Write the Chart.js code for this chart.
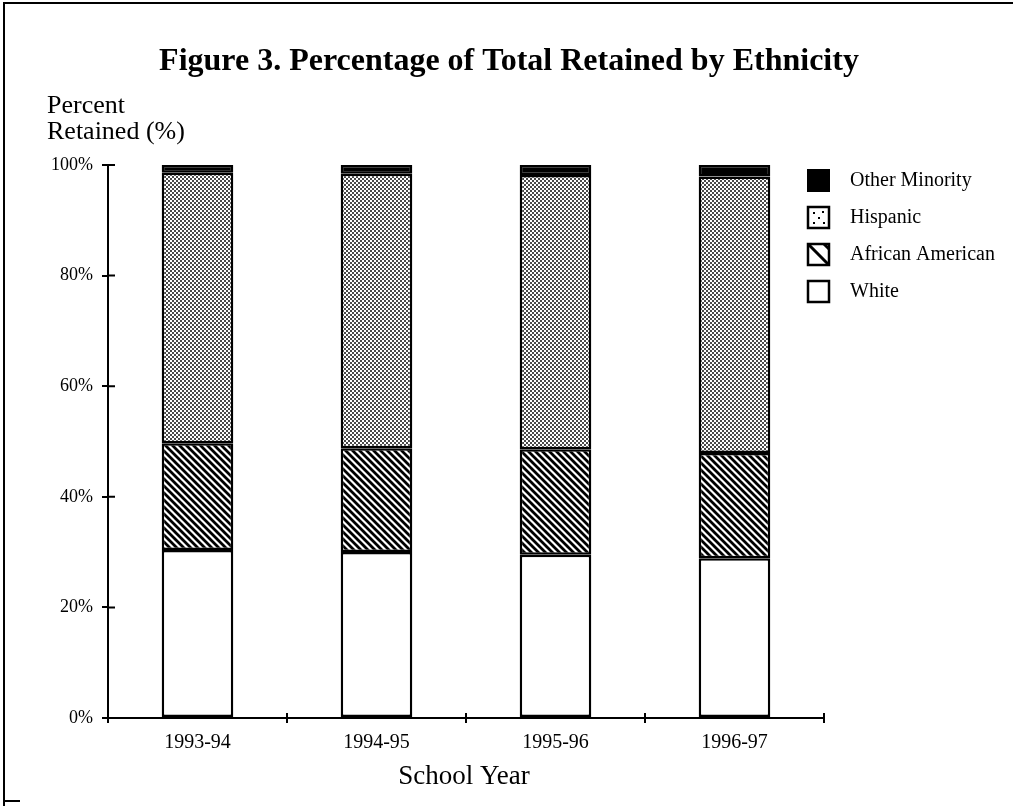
<!DOCTYPE html>
<html>
<head>
<meta charset="utf-8">
<script src="https://cdn.jsdelivr.net/npm/chart.js@4.4.1/dist/chart.umd.min.js"></script>
<style>
  html, body { margin: 0; padding: 0; background: #fff; }
  #wrap { width: 1013px; height: 811px; position: relative; }
</style>
</head>
<body>
<div id="wrap"><canvas id="c" width="1013" height="811"></canvas></div>
<script>
// ---- data ----
const categories = ['1993-94', '1994-95', '1995-96', '1996-97'];
const white = [30.4, 30.0, 29.5, 28.9];
const africanAmerican = [19.3, 18.8, 19.1, 19.0];
const hispanic = [48.9, 49.6, 49.6, 50.0];
const otherMinority = [1.4, 1.6, 1.8, 2.1];
const seriesLabels = ['White', 'African American', 'Hispanic', 'Other Minority'];
const yTicks = [0, 20, 40, 60, 80, 100];
const titleText = 'Figure 3. Percentage of Total Retained by Ethnicity';
const yTitleLines = ['Percent', 'Retained (%)'];
const xTitleText = 'School Year';

// ---- patterns ----
function stipple() {
  const c = document.createElement('canvas'); c.width = 4; c.height = 4;
  const g = c.getContext('2d');
  g.fillStyle = '#fff'; g.fillRect(0, 0, 4, 4);
  g.fillStyle = '#4a4a4a';
  g.fillRect(0, 0, 2, 2); g.fillRect(2, 2, 2, 2);
  return g.createPattern(c, 'repeat');
}
function hatch() {
  const s = 7;
  const c = document.createElement('canvas'); c.width = s; c.height = s;
  const g = c.getContext('2d');
  g.fillStyle = '#fff'; g.fillRect(0, 0, s, s);
  g.strokeStyle = '#000'; g.lineWidth = 2.8;
  g.beginPath();
  g.moveTo(-s, 0); g.lineTo(s, 2 * s);
  g.moveTo(0, -s); g.lineTo(2 * s, s);
  g.moveTo(0, 0); g.lineTo(s, s);
  g.stroke();
  return g.createPattern(c, 'repeat');
}
const fills = ['#ffffff', hatch(), stipple(), '#000000'];
const seriesData = [white, africanAmerican, hispanic, otherMinority];

const SERIF = '"Liberation Serif", "DejaVu Serif", serif';

const decorPlugin = {
  id: 'decor',
  beforeDraw(chart) {
    const ctx = chart.ctx;
    ctx.save();
    ctx.fillStyle = '#fff';
    ctx.fillRect(0, 0, chart.width, chart.height);
    ctx.restore();
  },
  afterDraw(chart) {
    const ctx = chart.ctx;
    const xs = chart.scales.x, ys = chart.scales.y;
    ctx.save();
    // frame
    ctx.strokeStyle = '#000'; ctx.lineWidth = 2;
    ctx.beginPath();
    ctx.moveTo(4, 806); ctx.lineTo(4, 3); ctx.lineTo(1013, 3);
    ctx.moveTo(4, 801); ctx.lineTo(20, 801);
    ctx.stroke();
    // title
    ctx.fillStyle = '#000';
    ctx.font = 'bold 32px ' + SERIF;
    ctx.textAlign = 'center'; ctx.textBaseline = 'middle';
    ctx.fillText(titleText, 509, 62);
    // y title
    ctx.font = '26px ' + SERIF;
    ctx.textAlign = 'left';
    ctx.fillText(yTitleLines[0], 47, 106);
    ctx.fillText(yTitleLines[1], 47, 132);
    // x title
    ctx.font = '27px ' + SERIF;
    ctx.textAlign = 'center';
    ctx.fillText(xTitleText, 464, 777);
    // inner tick marks on y axis
    ctx.lineWidth = 2;
    ctx.beginPath();
    yTicks.forEach(v => {
      const y = ys.getPixelForValue(v);
      ctx.moveTo(xs.left, y); ctx.lineTo(xs.left + 7, y);
    });
    // inner tick marks on x axis (category boundaries)
    const step = xs.getPixelForValue(1) - xs.getPixelForValue(0);
    for (let i = 0; i <= categories.length; i++) {
      const x = xs.getPixelForValue(0) - step / 2 + i * step;
      ctx.moveTo(x, ys.bottom); ctx.lineTo(x, ys.bottom - 5);
    }
    ctx.stroke();
    // legend (reverse order)
    ctx.font = '20px ' + SERIF;
    ctx.textAlign = 'left';
    const rows = [180, 217, 254, 291];
    const order = [3, 2, 1, 0];
    order.forEach((di, r) => {
      const cy = rows[r];
      const bx = 808, by = cy - 10, bs = 21;
      ctx.lineWidth = 2.5; ctx.strokeStyle = '#000';
      if (di === 3) {
        ctx.fillStyle = '#000'; ctx.fillRect(bx - 1, by - 1, bs + 2, bs + 2);
      } else {
        ctx.fillStyle = '#fff'; ctx.fillRect(bx, by, bs, bs);
        ctx.strokeRect(bx, by, bs, bs);
        if (di === 2) {
          ctx.fillStyle = '#000';
          [[5, 5], [14, 4], [5, 15], [15, 15], [10, 10]].forEach(p => ctx.fillRect(bx + p[0], by + p[1], 2, 2));
        } else if (di === 1) {
          ctx.save();
          ctx.beginPath(); ctx.rect(bx, by, bs, bs); ctx.clip();
          ctx.lineWidth = 3;
          ctx.beginPath();
          ctx.moveTo(bx, by); ctx.lineTo(bx + bs, by + bs);
          ctx.moveTo(bx + bs - 5, by); ctx.lineTo(bx + bs + 5, by + 10);
          ctx.stroke();
          ctx.restore();
        }
      }
      ctx.fillStyle = '#000';
      ctx.fillText(chart.data.datasets[di].label, 850, cy + 1);
    });
    ctx.restore();
  }
};

new Chart(document.getElementById('c'), {
  type: 'bar',
  data: {
    labels: categories,
    datasets: seriesLabels.map((lab, i) => ({
      label: lab,
      data: seriesData[i],
      backgroundColor: fills[i],
      borderColor: '#000',
      borderWidth: 2.5,
      borderSkipped: false,
      categoryPercentage: 1.0,
      barPercentage: 0.4
    }))
  },
  options: {
    responsive: false,
    animation: false,
    devicePixelRatio: 1,
    layout: { padding: { top: 165, right: 189, left: 0, bottom: 0 } },
    plugins: { legend: { display: false }, title: { display: false }, tooltip: { enabled: false } },
    scales: {
      x: {
        stacked: true,
        afterFit: s => { s.height = 93; },
        grid: { offset: true, drawOnChartArea: false, tickLength: 5, color: '#000', lineWidth: 2 },
        border: { display: true, color: '#000', width: 2 },
        ticks: { color: '#000', padding: 8, font: { family: SERIF, size: 20 } }
      },
      y: {
        stacked: true,
        min: 0, max: 100,
        afterFit: s => { s.width = 108; },
        afterBuildTicks: s => { s.ticks = yTicks.map(v => ({ value: v })); },
        grid: { drawOnChartArea: false, tickLength: 6, color: '#000', lineWidth: 2 },
        border: { display: true, color: '#000', width: 2 },
        ticks: { color: '#000', padding: 9, font: { family: SERIF, size: 18 }, callback: v => v + '%' }
      }
    }
  },
  plugins: [decorPlugin]
});
</script>
</body>
</html>
